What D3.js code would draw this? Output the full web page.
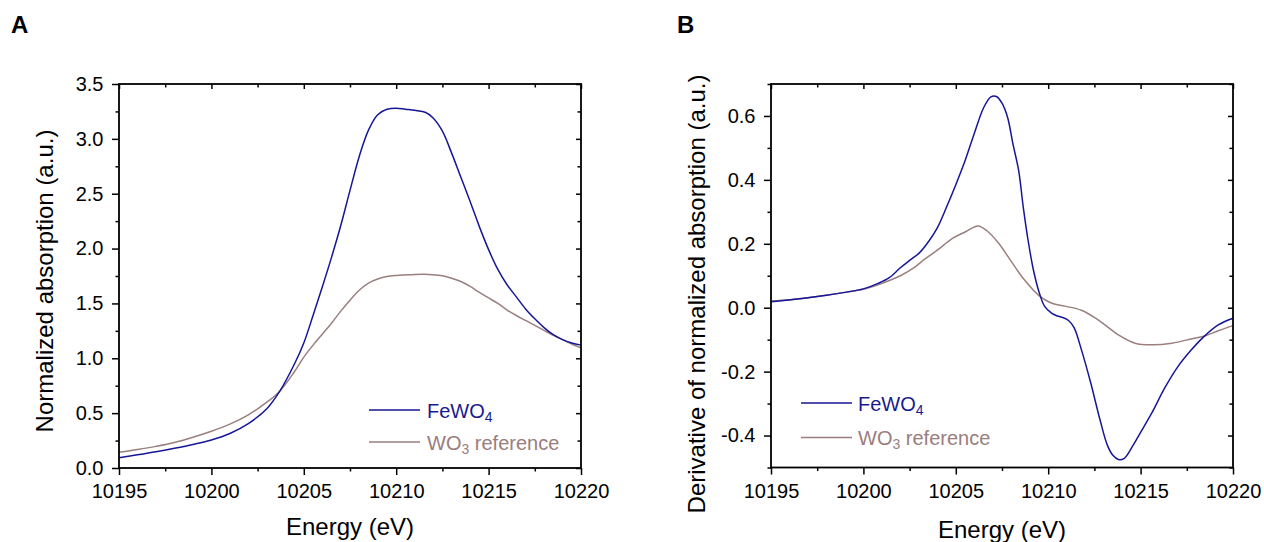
<!DOCTYPE html>
<html>
<head>
<meta charset="utf-8">
<script src="https://cdn.jsdelivr.net/npm/d3@7"></script>
<style>
  html, body { margin: 0; padding: 0; background: #fff; }
  svg { display: block; font-family: "Liberation Sans", Arial, sans-serif; }
</style>
</head>
<body>
<svg id="chart" width="1264" height="542"></svg>
<script>
// ---------- Data ----------
// Panel A: normalized absorption
const feEnergyA = [10195,10196,10197,10198,10199,10200,10201,10202,10203,10203.7,10204.5,10205,10205.5,10206,10206.5,10207,10207.5,10208,10208.5,10209,10209.5,10210,10210.5,10211,10211.6,10212,10212.5,10213,10213.5,10214,10214.5,10215,10215.5,10216,10216.5,10217,10217.5,10218,10218.5,10219,10219.5,10220];
const feAbsA = [0.094,0.12,0.148,0.18,0.215,0.256,0.315,0.405,0.54,0.70,0.95,1.14,1.39,1.65,1.92,2.21,2.53,2.84,3.08,3.22,3.27,3.28,3.27,3.26,3.24,3.19,3.07,2.87,2.65,2.43,2.2,1.99,1.81,1.67,1.56,1.45,1.36,1.28,1.215,1.17,1.14,1.12];
const woEnergyA = [10195,10196,10197,10198,10199,10200,10201,10202,10203,10203.7,10204.5,10205,10205.5,10206,10206.5,10207,10207.5,10208,10208.5,10209,10209.5,10210,10210.5,10211,10211.5,10212,10212.5,10213,10213.5,10214,10214.5,10215,10215.5,10216,10216.5,10217,10217.5,10218,10218.5,10219,10219.5,10220];
const woAbsA = [0.143,0.168,0.197,0.232,0.28,0.335,0.40,0.485,0.60,0.70,0.88,1.01,1.12,1.22,1.32,1.43,1.53,1.62,1.685,1.722,1.745,1.755,1.76,1.764,1.765,1.762,1.752,1.73,1.70,1.655,1.60,1.55,1.50,1.44,1.39,1.345,1.30,1.255,1.21,1.17,1.13,1.095];

// Panel B: derivative of normalized absorption
const feEnergyB = [10195,10196,10197,10198,10199,10200,10200.8,10201.4,10202,10202.5,10203,10203.5,10204,10204.5,10205,10205.5,10206,10206.5,10206.9,10207.2,10207.5,10207.8,10208.1,10208.4,10208.65,10208.9,10209.2,10209.5,10209.8,10210.2,10210.5,10210.8,10211.1,10211.4,10211.8,10212.3,10212.8,10213.2,10213.5,10213.8,10214.1,10214.6,10215,10215.6,10216.3,10217,10217.7,10218.4,10219.2,10220];
const feDerB = [0.019,0.024,0.031,0.039,0.048,0.059,0.076,0.094,0.125,0.148,0.17,0.205,0.25,0.315,0.385,0.46,0.545,0.625,0.66,0.661,0.64,0.596,0.51,0.43,0.315,0.215,0.118,0.05,0.005,-0.018,-0.026,-0.031,-0.04,-0.062,-0.132,-0.235,-0.35,-0.43,-0.462,-0.475,-0.472,-0.43,-0.39,-0.33,-0.252,-0.186,-0.135,-0.092,-0.054,-0.033];
const woEnergyB = [10195,10196,10197,10198,10199,10200,10200.8,10201.4,10202,10202.8,10203.3,10204,10204.8,10205.5,10206.2,10206.7,10207.3,10208,10208.7,10209.5,10210.2,10210.9,10211.8,10212.7,10213.8,10214.7,10215.6,10216.7,10217.8,10218.5,10219.2,10220];
const woDerB = [0.021,0.025,0.031,0.039,0.048,0.058,0.072,0.085,0.1,0.128,0.151,0.18,0.216,0.237,0.256,0.24,0.203,0.145,0.088,0.038,0.014,0.005,-0.008,-0.038,-0.085,-0.111,-0.116,-0.111,-0.097,-0.088,-0.072,-0.056];

// Axis ticks
const xTicks = [10195,10200,10205,10210,10215,10220];
const xMinor = [10197.5,10202.5,10207.5,10212.5,10217.5];
const yTicksA = [0,0.5,1.0,1.5,2.0,2.5,3.0,3.5];
const yMinorA = [0.25,0.75,1.25,1.75,2.25,2.75,3.25];
const yTicksB = [-0.4,-0.2,0.0,0.2,0.4,0.6];
const yMinorB = [-0.5,-0.3,-0.1,0.1,0.3,0.5,0.7];

const BLUE = "#16169a";
const BROWN = "#9b7f7f";
const BLUE_TXT = "#1a1a8e";
const BROWN_TXT = "#9a7d7d";

const svg = d3.select("#chart");
svg.append("rect").attr("width",1264).attr("height",542).attr("fill","#fff");

function panel(cfg) {
  const x = d3.scaleLinear().domain([10195,10220]).range([cfg.left, cfg.right]);
  const y = d3.scaleLinear().domain(cfg.yDomain).range([cfg.bottom, cfg.top]);
  const g = svg.append("g");
  const fmt = cfg.yFmt;

  // curves
  const line = d3.line().curve(d3.curveCatmullRom.alpha(0.5)).x(d => x(d[0])).y(d => y(d[1]));
  cfg.series.forEach(s => {
    g.append("path")
      .datum(s.e.map((e,i) => [e, s.v[i]]))
      .attr("d", line)
      .attr("fill","none")
      .attr("stroke", s.color)
      .attr("stroke-width", 1.5);
  });

  const styleAxis = sel => {
    sel.selectAll("path.domain").remove();
    sel.selectAll("line").attr("stroke","#000").attr("stroke-width",1.5);
    sel.selectAll("text").attr("font-size",20).attr("fill","#000")
       .attr("font-family",'"Liberation Sans", Arial, sans-serif');
  };

  // bottom major
  g.append("g").attr("transform",`translate(0,${cfg.bottom})`)
    .call(d3.axisBottom(x).tickValues(xTicks).tickSize(7).tickPadding(9).tickFormat(d3.format("d")))
    .call(styleAxis);
  g.append("g").attr("transform",`translate(0,${cfg.bottom})`)
    .call(d3.axisBottom(x).tickValues(xMinor).tickSize(3.5).tickFormat(""))
    .call(styleAxis);
  // top mirror (inward)
  g.append("g").attr("transform",`translate(0,${cfg.top})`)
    .call(d3.axisBottom(x).tickValues(xTicks).tickSize(5).tickFormat(""))
    .call(styleAxis);
  g.append("g").attr("transform",`translate(0,${cfg.top})`)
    .call(d3.axisBottom(x).tickValues(xMinor).tickSize(3.5).tickFormat(""))
    .call(styleAxis);
  // left major
  g.append("g").attr("transform",`translate(${cfg.left},0)`)
    .call(d3.axisLeft(y).tickValues(cfg.yTicks).tickSize(7).tickPadding(8.5).tickFormat(fmt))
    .call(styleAxis);
  g.append("g").attr("transform",`translate(${cfg.left},0)`)
    .call(d3.axisLeft(y).tickValues(cfg.yMinor).tickSize(3.5).tickFormat(""))
    .call(styleAxis);
  // right mirror (inward)
  g.append("g").attr("transform",`translate(${cfg.right},0)`)
    .call(d3.axisLeft(y).tickValues(cfg.yTicks).tickSize(5).tickFormat(""))
    .call(styleAxis);
  g.append("g").attr("transform",`translate(${cfg.right},0)`)
    .call(d3.axisLeft(y).tickValues(cfg.yMinor).tickSize(3.5).tickFormat(""))
    .call(styleAxis);

  // frame
  g.append("rect")
    .attr("x", cfg.left).attr("y", cfg.top)
    .attr("width", cfg.right - cfg.left).attr("height", cfg.bottom - cfg.top)
    .attr("fill","none").attr("stroke","#000").attr("stroke-width",1.8);

  // axis titles
  g.append("text")
    .attr("x", (cfg.left + cfg.right)/2).attr("y", cfg.xTitleY)
    .attr("text-anchor","middle").attr("font-size",24).attr("fill","#000")
    .text("Energy (eV)");
  g.append("text")
    .attr("transform", `translate(${cfg.yTitleX},${cfg.yTitleCY}) rotate(-90)`)
    .attr("text-anchor","middle").attr("font-size",24).attr("fill","#000")
    .text(cfg.yTitle);

  // panel letter
  g.append("text").attr("x", cfg.letterX).attr("y", 33)
    .attr("font-size",24).attr("font-weight","bold").attr("fill","#000")
    .text(cfg.letter);

  // legend
  const lg = cfg.legend;
  const items = [
    {color: BLUE, txt: BLUE_TXT, main: "FeWO", sub: "4", rest: ""},
    {color: BROWN, txt: BROWN_TXT, main: "WO", sub: "3", rest: " reference"}
  ];
  items.forEach((it, i) => {
    const ly = lg.y0 + i * lg.dy;
    g.append("line").attr("x1", lg.x1).attr("x2", lg.x2).attr("y1", ly).attr("y2", ly)
      .attr("stroke", it.color).attr("stroke-width", 1.5);
    const t = g.append("text").attr("x", lg.tx).attr("y", ly + 7.5)
      .attr("font-size", 20).attr("fill", it.txt);
    t.append("tspan").text(it.main);
    t.append("tspan").attr("font-size", 14).attr("dy", 4).text(it.sub);
    if (it.rest) t.append("tspan").attr("dy", -4).text(it.rest);
  });
}

panel({
  left: 119, right: 581, top: 84, bottom: 468,
  yDomain: [0, 3.5], yTicks: yTicksA, yMinor: yMinorA, yFmt: d3.format(".1f"),
  series: [{e: woEnergyA, v: woAbsA, color: BROWN}, {e: feEnergyA, v: feAbsA, color: BLUE}],
  xTitleY: 535, yTitleX: 53, yTitleCY: 281,
  yTitle: "Normalized absorption (a.u.)",
  letter: "A", letterX: 11,
  legend: {x1: 369, x2: 420, tx: 427, y0: 410, dy: 32}
});

panel({
  left: 771, right: 1233, top: 84, bottom: 467.5,
  yDomain: [-0.5, 0.7], yTicks: yTicksB, yMinor: yMinorB, yFmt: v => d3.format(".1f")(v).replace("−","-"),
  series: [{e: woEnergyB, v: woDerB, color: BROWN}, {e: feEnergyB, v: feDerB, color: BLUE}],
  xTitleY: 538, yTitleX: 705, yTitleCY: 294,
  yTitle: "Derivative of normalized absorption (a.u.)",
  letter: "B", letterX: 677,
  legend: {x1: 801, x2: 852, tx: 858, y0: 403, dy: 34.5}
});
</script>
</body>
</html>
